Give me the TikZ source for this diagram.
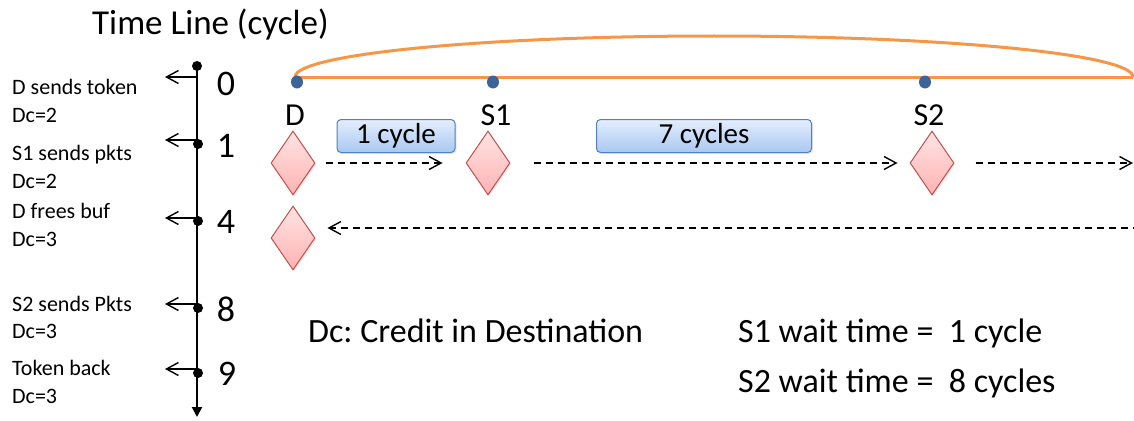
\documentclass[tikz,border=0pt]{standalone}
\usepackage{fontspec}
\setmainfont{Carlito}
\frenchspacing
\usetikzlibrary{arrows.meta,shapes.geometric,shadows}
\definecolor{ringorange}{RGB}{247,150,70}
\definecolor{dotblue}{RGB}{60,100,155}
\definecolor{boxedge}{RGB}{80,128,190}
\definecolor{boxtop}{RGB}{228,238,252}
\definecolor{boxbot}{RGB}{168,200,242}
\definecolor{dmedge}{RGB}{192,80,77}
\definecolor{dmtop}{RGB}{255,228,228}
\definecolor{dmbot}{RGB}{255,178,178}
\newcommand\fsz[1]{\fontsize{#1}{#1}\selectfont}
\begin{document}
\begin{tikzpicture}[x=1pt,y=-1pt,
  txt/.style={inner sep=0pt,anchor=base west},
  small/.style={txt,font=\fsz{22}},
  big/.style={inner sep=0pt,anchor=base,font=\fsz{32}},
  digit/.style={inner sep=0pt,anchor=base,font=\fsz{36}},
  tdot/.style={circle,fill=black,inner sep=0pt,minimum size=10pt},
  ndot/.style={ellipse,fill=dotblue,inner sep=0pt,minimum width=12pt,minimum height=13pt},
  ring/.style={draw=ringorange,line width=3pt},
  router/.style={diamond,draw=dmedge,line width=1pt,top color=dmtop,bottom color=dmbot,
    minimum width=44pt,minimum height=64pt,inner sep=0pt,
    drop shadow={opacity=0.2,shadow xshift=1.5pt,shadow yshift=-1.5pt}},
  delay/.style={rounded corners=4pt,draw=boxedge,line width=1pt,top color=boxtop,bottom color=boxbot,
    inner sep=0pt,font=\fsz{29},
    drop shadow={opacity=0.2,shadow xshift=1.5pt,shadow yshift=-1.5pt}},
  dashar/.style={line width=1.3pt,dash pattern=on 7pt off 5pt,-{Straight Barb[length=12pt,width=13pt,line width=1.4pt]}},
  evar/.style={line width=1.4pt,-{Straight Barb[length=12pt,width=13pt,line width=1.4pt]}}
]
\useasboundingbox (0,0) rectangle (1134,420);

% ---- time line ----
\node[txt,font=\fsz{35}] (title) at (92,35) {Time Line (cycle)};
\coordinate (tTop) at (197,65);
\coordinate (tBot) at (197,417);
\draw[line width=2pt,-{Triangle[length=10pt,width=10pt]}] (tTop) -- (tBot);

\node[tdot] (t0) at (197,66) {};
\node[tdot] (t1) at (198,144) {};
\node[tdot] (t4) at (198,221) {};
\node[tdot] (t8) at (198,308) {};
\node[tdot] (t9) at (198,373) {};

\node[digit] (n0) at (226,95) {0};
\node[digit] (n1) at (226,157) {1};
\node[digit] (n4) at (226,233) {4};
\node[digit] (n8) at (226,321) {8};
\node[digit] (n9) at (227,385) {9};

% event arrows
\foreach \i/\y in {0/77,1/140,4/218,8/304,9/369}{
  \coordinate (s\i) at (196,\y);
  \coordinate (e\i) at (165,\y);
  \draw[evar] (s\i) -- (e\i);
}

% event labels
\node[small] (l0a) at (12,94) {D sends token};
\node[small] (l0b) at (12,122) {Dc=2};
\node[small] (l1a) at (12,160) {S1 sends pkts};
\node[small] (l1b) at (12,188) {Dc=2};
\node[small] (l4a) at (12,218) {D frees buf};
\node[small] (l4b) at (12,246) {Dc=3};
\node[small] (l8a) at (12,311) {S2 sends Pkts};
\node[small] (l8b) at (12,338) {Dc=3};
\node[small] (l9a) at (12,375) {Token back};
\node[small] (l9b) at (12,403) {Dc=3};

% ---- ring ----
\coordinate (ringL) at (295,77);
\coordinate (ringR) at (1133,77);
\draw[ring] (ringL) -- (ringR);
\draw[ring] (ringR) arc[start angle=0,end angle=180,x radius=419pt,y radius=41pt];

\node[ndot] (pD) at (297,82) {};
\node[ndot] (pS1) at (493,82) {};
\node[ndot] (pS2) at (925,82) {};

\node[big] (lD) at (295,125) {D};
\node[big] (lS1) at (496,125) {S1};
\node[big] (lS2) at (929,125) {S2};

% ---- routers ----
\node[router] (dD) at (293,163) {};
\node[router] (dS1) at (488,163) {};
\node[router] (dS2) at (932,163) {};
\node[router] (dD2) at (293,238) {};

\node[delay,minimum width=118pt,minimum height=33pt] (b1) at (396,136) {1 cycle};
\node[delay,minimum width=215pt,minimum height=33pt] (b7) at (704,136) {7 cycles};

\coordinate (outR) at (1133,163);
\coordinate (inR) at (1140,228);
\draw[dashar,shorten <=10pt,shorten >=23pt] (dD) -- (dS1);
\draw[dashar,shorten <=23pt,shorten >=12pt] (dS1) -- (dS2);
\draw[dashar,shorten <=21pt] (dS2) -- (outR);
\draw[dashar,shorten >=12pt] (inR) -- (dD2.east |- inR);

% ---- notes ----
\node[txt,font=\fsz{34}] (note) at (308,342) {Dc: Credit in Destination};
\node[txt,font=\fsz{34}] (w1) at (738,342) {S1 wait time = \ 1 cycle};
\node[txt,font=\fsz{34}] (w2) at (738,392) {S2 wait time = \ 8 cycles};
\end{tikzpicture}
\end{document}
